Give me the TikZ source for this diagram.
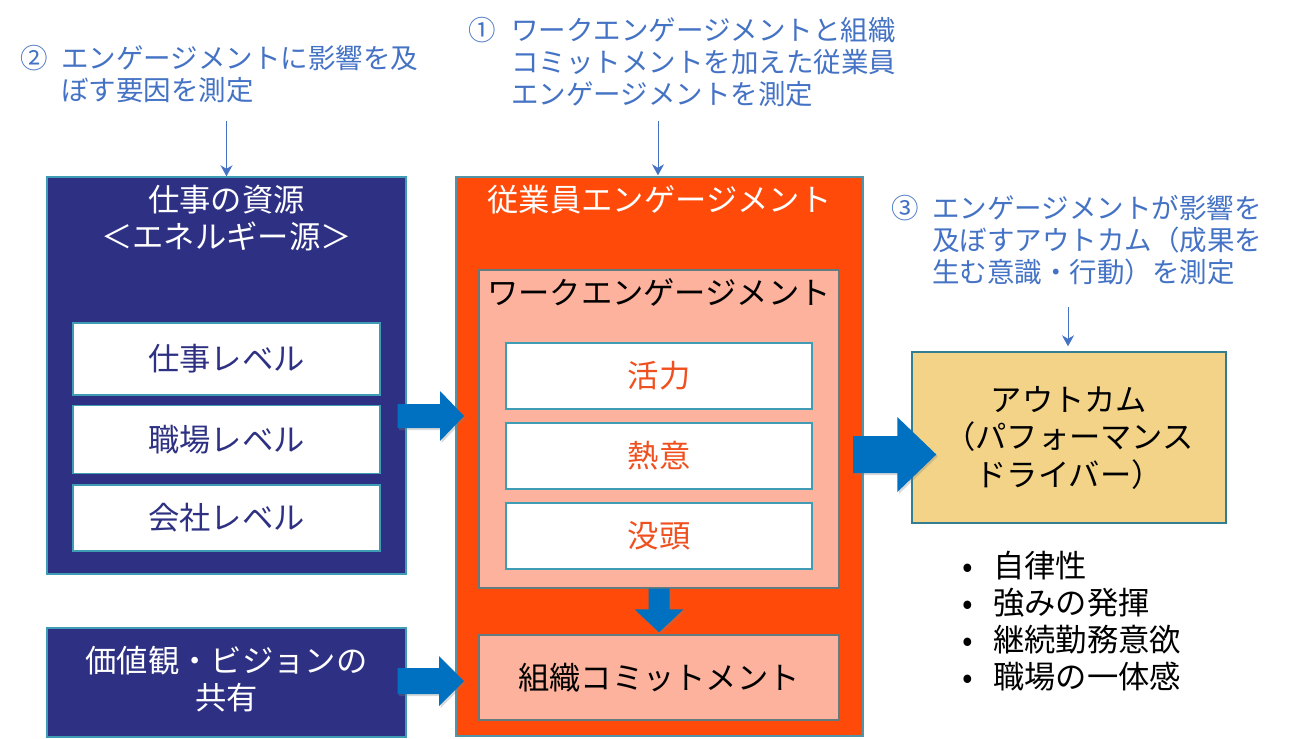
\documentclass[tikz,border=0pt]{standalone}
\usepackage{fontspec}
\setmainfont{Noto Sans CJK JP}
\usetikzlibrary{arrows.meta,calc,shadows}
\definecolor{navy}{HTML}{2E3183}
\definecolor{edgeblue}{HTML}{3E9CB5}
\definecolor{engorange}{HTML}{FF4A0A}
\definecolor{salmon}{HTML}{FCB29C}
\definecolor{salmonedge}{HTML}{637A7E}
\definecolor{outfill}{HTML}{F2D388}
\definecolor{annblue}{HTML}{4472C4}
\definecolor{blockblue}{HTML}{0070C0}
\definecolor{vtext}{HTML}{F0501E}
\newcommand\HArrow[5]{% start, end, half shaft, half head, head length
  \fill[blockarrow] ($(#1)+(0,-#3)$) -- ($(#2)+(-#5,-#3)$) -- ($(#2)+(-#5,-#4)$) -- (#2)
    -- ($(#2)+(-#5,#4)$) -- ($(#2)+(-#5,#3)$) -- ($(#1)+(0,#3)$) -- cycle;}
\newcommand\VArrow[5]{% start, end, half shaft, half head, head length (downwards)
  \fill[blockarrow] ($(#1)+(-#3,0)$) -- ($(#2)+(-#3,-#5)$) -- ($(#2)+(-#4,-#5)$) -- (#2)
    -- ($(#2)+(#4,-#5)$) -- ($(#2)+(#3,-#5)$) -- ($(#1)+(#3,0)$) -- cycle;}
\tikzset{
  every node/.style={font=\fontsize{31.3}{37}\selectfont, inner sep=0pt, align=center},
  navybox/.style={rectangle, fill=navy, draw=edgeblue, line width=1.4pt},
  whitebox/.style={rectangle, fill=white, draw=edgeblue, line width=1.2pt},
  engbox/.style={rectangle, fill=engorange, draw=edgeblue!70!gray, line width=1.4pt},
  salbox/.style={rectangle, fill=salmon, draw=salmonedge, line width=1.4pt},
  outbox/.style={rectangle, fill=outfill, draw=edgeblue!80!black, line width=1.4pt},
  ann/.style={font=\fontsize{27.5}{32}\selectfont, text=annblue, align=left},
  thinarrow/.style={draw=annblue, line width=1pt, -{Stealth[length=11pt,width=12pt,inset=3.5pt]}},
  blockarrow/.style={fill=blockblue, drop shadow={opacity=0.3, shadow xshift=1.5pt, shadow yshift=-2pt}},
}
\begin{document}
\begin{tikzpicture}[x=1pt,y=-1pt]
\useasboundingbox (0,0) rectangle (1299,739);

% annotations
\node[ann, anchor=west] (ann2) at (20,74) {\makebox[41pt][l]{②}エンゲージメントに影響を及\\\hspace*{41pt}ぼす要因を測定};
\node[ann, anchor=west] (ann1) at (468,62) {\makebox[43pt][l]{①}ワークエンゲージメントと組織\\\hspace*{43pt}コミットメントを加えた従業員\\\hspace*{43pt}エンゲージメントを測定};
\node[ann, anchor=west] (ann3) at (891,240) {\makebox[41pt][l]{③}エンゲージメントが影響を\\\hspace*{41pt}及ぼすアウトカム（成果を\\\hspace*{41pt}生む意識・行動）を測定};

% left column
\node[navybox, minimum width=359pt, minimum height=397pt] (res) at (226.5,375.5) {};
\node[text=white] (restitle) at (226.5,218) {仕事の資源\\＜エネルギー源＞};
\node[whitebox, minimum width=307pt, minimum height=72pt, text=navy] (lv1) at (226.5,359) {仕事レベル};
\node[whitebox, minimum width=307pt, minimum height=68pt, text=navy] (lv2) at (226.5,439.5) {職場レベル};
\node[whitebox, minimum width=307pt, minimum height=66pt, text=navy] (lv3) at (226.5,518) {会社レベル};

\node[navybox, minimum width=359pt, minimum height=109pt] (val) at (226.5,682.5) {};
\node[text=white] (valtext) at (226.5,679) {価値観・ビジョンの\\共有};

% employee engagement
\node[engbox, minimum width=407pt, minimum height=559pt] (eng) at (659.5,456.5) {};
\node[text=white] (engtitle) at (659.5,200) {従業員エンゲージメント};
\node[salbox, minimum width=360pt, minimum height=318pt] (work) at (659,429) {};
\node[text=black] (worktitle) at (659,292) {ワークエンゲージメント};
\node[whitebox, minimum width=306pt, minimum height=66pt, text=vtext] (v1) at (659,376) {活力};
\node[whitebox, minimum width=306pt, minimum height=66pt, text=vtext] (v2) at (659,456) {熱意};
\node[whitebox, minimum width=306pt, minimum height=66pt, text=vtext] (v3) at (659,536) {没頭};
\node[salbox, minimum width=360pt, minimum height=85pt, text=black] (org) at (659,677.5) {組織コミットメント};

% outcome
\node[outbox, minimum width=314pt, minimum height=171pt, text=black, font=\fontsize{31.3}{37.5}\selectfont] (out) at (1069,437.5) {アウトカム\\（パフォーマンス\\ドライバー）};
\node[anchor=west, align=left, text=black] (bul) at (962,621.5) {\makebox[31pt][l]{•}自律性\\\makebox[31pt][l]{•}強みの発揮\\\makebox[31pt][l]{•}継続勤務意欲\\\makebox[31pt][l]{•}職場の一体感};

% thin arrows
\draw[thinarrow] ($(res.north)+(0,-55)$) -- (res.north);
\draw[thinarrow] ($(eng.north)+(-1.5,-55)$) -- ($(eng.north)+(-1.5,-1)$);
\draw[thinarrow] ($(out.north)+(-1,-44)$) -- ($(out.north)+(-1,-5)$);

% block arrows
\coordinate (a1s) at ($(res.east)+(-9,40.5)$);
\coordinate (a1e) at (464,416);
\HArrow{a1s}{a1e}{12}{25}{24}
\coordinate (a2s) at ($(val.east)+(-9,-1.5)$);
\coordinate (a2e) at (464,681);
\HArrow{a2s}{a2e}{13}{25}{25}
\coordinate (a3s) at (853,454.5);
\coordinate (a3e) at ($(out.west)+(25,17)$);
\HArrow{a3s}{a3e}{18.5}{37.5}{39}
\coordinate (a4s) at (work.south);
\coordinate (a4e) at ($(org.north)+(0,-2)$);
\VArrow{a4s}{a4e}{10.5}{24.5}{23}
\end{tikzpicture}
\end{document}
